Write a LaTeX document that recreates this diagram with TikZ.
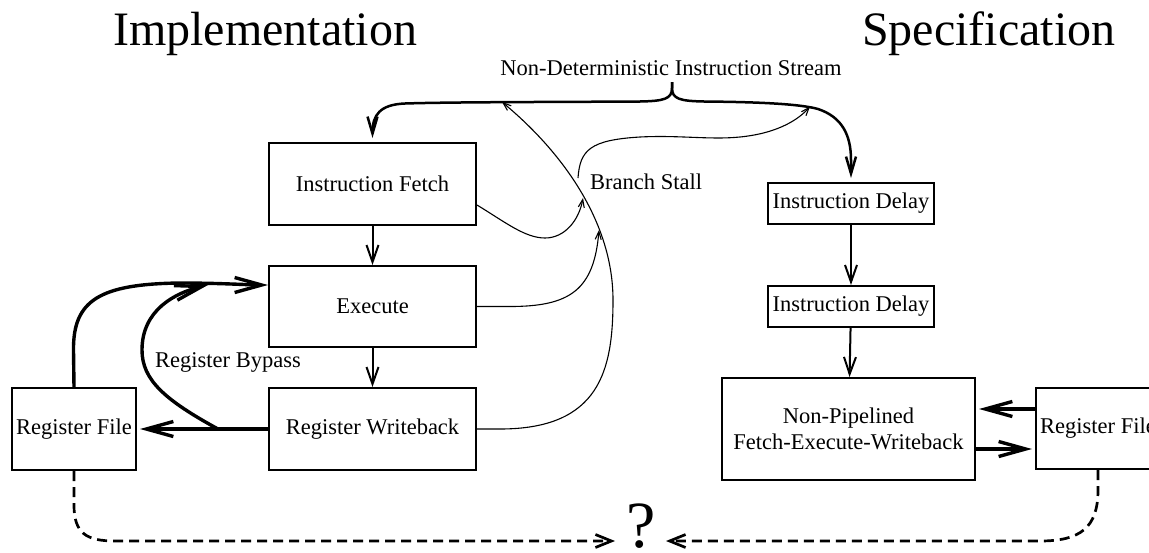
\documentclass[tikz,border=0pt]{standalone}
\usepackage{fontspec}
\setmainfont{Liberation Serif}
\usetikzlibrary{arrows.meta}
\begin{document}
\begin{tikzpicture}[x=1pt,y=-1pt,
  txt/.style={font=\fontsize{22.5}{26}\selectfont},
  blk/.style={txt, draw, line width=2pt, inner sep=0pt, align=center},
  ttl/.style={font=\fontsize{48}{54}\selectfont, inner sep=0pt},
  lbl/.style={txt, inner sep=0pt},
  medarr/.style={line width=2pt, -{Straight Barb[length=17pt,width=12pt]}},
  bracearr/.style={line width=2.5pt, -{Straight Barb[length=17pt,width=10pt]}, shorten >=4pt},
  thinarr/.style={line width=1.1pt, -{Straight Barb[length=8pt,width=6pt]}},
  thickarr/.style={line width=3.4pt, -{Straight Barb[length=27pt,width=15pt]}},
  dasharr/.style={line width=2.7pt, dash pattern=on 10pt off 6pt, -{Straight Barb[length=16pt,width=13pt]}},
]
\useasboundingbox (0,0) rectangle (1149,552);
\clip (0,0) rectangle (1149,552);

% titles and labels
\node[ttl, anchor=base west] (impl) at (113,45) {Implementation};
\node[ttl, anchor=base west] (spec) at (862,45) {Specification};
\node[lbl, anchor=base] (nd) at (671,75) {Non-Deterministic Instruction Stream};
\node[lbl, anchor=base west] (bstall) at (590,189) {Branch Stall};
\node[lbl, anchor=base west] (byp) at (155,367) {Register Bypass};
\node[font=\fontsize{66}{70}\selectfont, inner sep=0pt, anchor=base] (q) at (641,547) {?};

% boxes
\node[blk, minimum width=207pt, minimum height=82pt] (if) at (372.5,184) {Instruction Fetch};
\node[blk, minimum width=207pt, minimum height=81pt] (ex) at (372.5,306.5) {Execute};
\node[blk, minimum width=207pt, minimum height=82pt] (rw) at (372.5,429) {Register Writeback};
\node[blk, minimum width=124pt, minimum height=82pt] (rf) at (74,429) {Register File};
\node[blk, minimum width=166pt, minimum height=41pt] (id1) at (851,203.5) {Instruction Delay};
\node[blk, minimum width=166pt, minimum height=41pt] (id2) at (851,306.5) {Instruction Delay};
\node[blk, minimum width=253pt, minimum height=102pt] (np) at (848.5,429) {Non-Pipelined\\Fetch-Execute-Writeback};
\node[blk, minimum width=124pt, minimum height=81pt] (rf2) at (1098,428.5) {Register File};

% coordinates
\coordinate (btip) at (672,82);
\coordinate (bjoinL) at (502,102);
\coordinate (bjoinR) at (810,106.5);
\coordinate (bsin1) at (583,198);
\coordinate (bsin2) at (599,230);
\coordinate (bsout) at (578,178);
\coordinate (bp) at (218,429);
\coordinate (bypassend) at (208,285);
\coordinate (qL) at (615,541);
\coordinate (qR) at (666,541);

% brace
\draw[bracearr] (btip) -- (672,88) .. controls (672,99) and (664,101) .. (640,101.5)
  .. controls (560,102) and (450,102) .. (405,103.5)
  .. controls (380,104.5) and (372.5,115) .. (if.north);
\draw[bracearr] (btip) -- (672,88) .. controls (672,99) and (680,101) .. (704,101.5)
  .. controls (760,102) and (800,104) .. (818,109)
  .. controls (842,117) and (851,135) .. (851,160) -- (id1.north);

% pipeline arrows
\draw[medarr] (if) -- (ex);
\draw[medarr] (ex) -- (rw);
\draw[medarr] (id1) -- (id2);
\draw[medarr] (id2) -- (np);

% thin control arrows
\draw[thinarr] ([yshift=-21pt]if.east) .. controls (505,222) and (525,238) .. (545,238)
  .. controls (565,238) and (579,220) .. (bsin1);
\draw[thinarr] (ex.east) -- (510,306.5) .. controls (570,306.5) and (594,290) .. (bsin2);
\draw[thinarr] (rw.east) -- (500,429) .. controls (600,429) and (613,370) .. (613,300)
  .. controls (613,220) and (560,150) .. (bjoinL);
\draw[thinarr] (bsout) .. controls (580,150) and (590,140) .. (640,137)
  .. controls (680,135) and (710,140) .. (740,137)
  .. controls (780,133) and (800,118) .. (bjoinR);

% thick register arrows
\draw[thickarr, shorten >=3pt] (rw.west) -- (rf.east);
\draw[thickarr] (bp) .. controls (165,400) and (142,380) .. (142,350)
  .. controls (142,310) and (175,293) .. (bypassend);
\draw[thickarr] (rf.north) -- (73.5,350) .. controls (73,300) and (100,284) .. (180,283)
  .. controls (220,283) and (250,285) .. ([yshift=21.5pt]ex.west);
\draw[thickarr, shorten >=3pt] ([yshift=19.5pt]rf2.west) -- ([yshift=20pt]np.east);
\draw[thickarr, shorten >=3pt] ([yshift=-20pt]np.east) -- ([yshift=-20.5pt]rf2.west);

% dashed comparison arrows
\draw[dasharr] (rf.south) -- (74,505) .. controls (74,533) and (86,541) .. (115,541) -- (qL);
\draw[dasharr] (rf2.south) -- (1098,490) .. controls (1098,528) and (1080,541) .. (1040,541) -- (qR);
\end{tikzpicture}
\end{document}
